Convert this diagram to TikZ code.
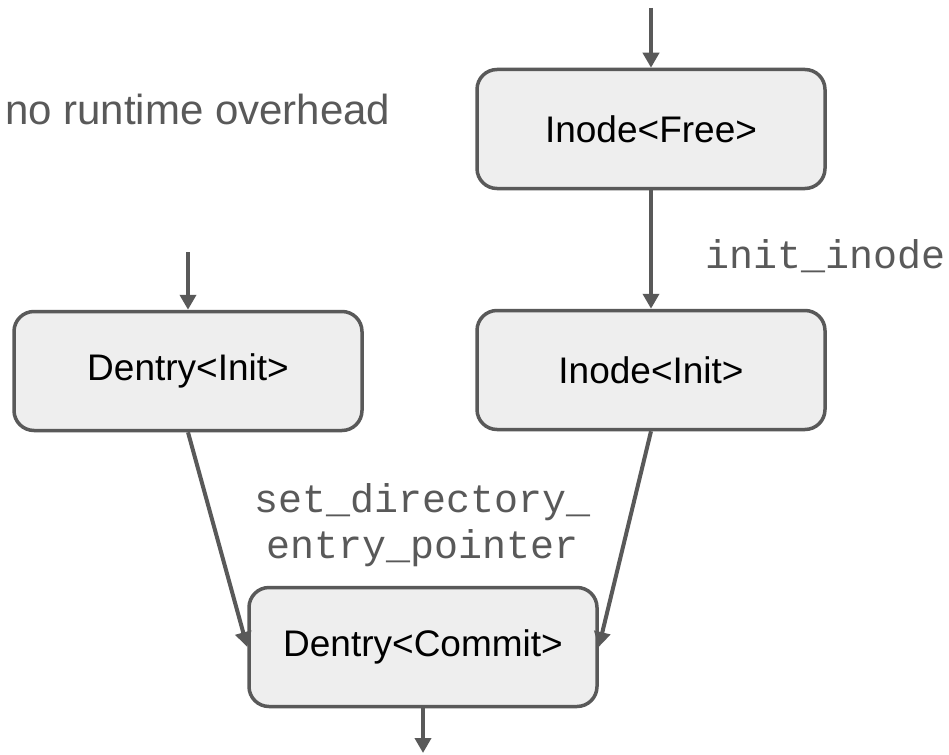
\documentclass[tikz,border=0pt]{standalone}
\usepackage{fontspec}
\setmainfont{Liberation Sans}
\setmonofont{Liberation Mono}
\usetikzlibrary{arrows.meta}
\definecolor{edgegray}{HTML}{595959}
\definecolor{boxfill}{HTML}{EEEEEE}
\begin{document}
\begin{tikzpicture}[x=1pt,y=-1pt,
	state/.style={draw=edgegray,line width=3.5pt,fill=boxfill,rounded corners=20pt,minimum width=348pt,minimum height=119pt,inner sep=0pt,font=\fontsize{37}{44}\selectfont},
	trans/.style={draw=edgegray,line width=4pt,-{Triangle[length=15pt,width=16pt]}},
	call/.style={text=edgegray,inner sep=0pt,font=\ttfamily\fontsize{40}{46}\selectfont}]
	\useasboundingbox (0,0) rectangle (949,754);
	\node[state] (ifree) at (651,129) {Inode<Free>};
	\node[state] (iinit) at (651,370) {Inode<Init>};
	\node[state] (dinit) at (188,371) {Dentry<Init>};
	\node[state] (commit) at (423,647) {Dentry<Commit>};
	\coordinate (ifreein) at (651,8);
	\coordinate (dinitin) at (188,252);
	\coordinate (commitout) at (423,753);
	\draw[trans] (ifreein) -- (ifree);
	\draw[trans] (ifree) -- (iinit);
	\draw[trans] (dinitin) -- (dinit);
	\draw[trans] (dinit.south) -- (commit.west);
	\draw[trans] (iinit.south) -- (commit.east);
	\draw[trans] (commit) -- (commitout);
	\node[text=edgegray,anchor=base west,inner sep=0pt,font=\fontsize{42}{50}\selectfont] (note) at (5,125) {no runtime overhead};
	\node[call,anchor=base west] (initlbl) at (705,268) {init\_inode};
	\node[call,align=center,anchor=base] (setlbl) at (423,558) {set\_directory\_\\entry\_pointer};
\end{tikzpicture}
\end{document}
